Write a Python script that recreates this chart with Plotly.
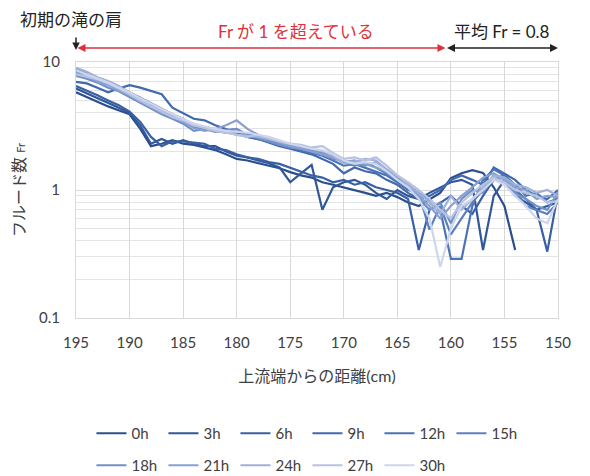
import plotly.graph_objects as go

# Distance from upstream end (cm), one reading per centimetre
distance = list(range(195, 149, -1))

hours = ["0h", "3h", "6h", "9h", "12h", "15h", "18h", "21h", "24h", "27h", "30h"]

fr_0h = [5.8, 5.3, 4.9, 4.5, 4.2, 3.9, 3.0, 2.2, 2.3, 2.45, 2.3, 2.25, 2.15, 2.05, 1.9, 1.75,
         1.7, 1.62, 1.55, 1.48, 1.38, 1.3, 1.25, 1.15, 1.1, 1.05, 1.0, 0.95, 0.9, 0.95, 0.88,
         0.8, 0.75, 0.85, 0.95, 1.24, 1.35, 1.43, 1.36, 1.05, 0.75, 0.34, None, None, None, None]
fr_3h = [6.2, 5.7, 5.2, 4.8, 4.4, 4.0, 3.2, 2.3, 2.5, 2.3, 2.45, 2.3, 2.2, 2.2, 2.0, 1.85,
         1.8, 1.7, 1.62, 1.5, 1.15, 1.35, 1.57, 0.7, 1.05, 1.15, 1.2, 1.1, 0.95, 0.85, 1.0,
         0.9, 0.85, 0.95, 1.05, 1.15, 1.2, 1.1, 0.34, 0.9, 1.2, 0.9, 0.8, 0.7, 0.75, 0.8]
fr_6h = [6.5, 6.0, 5.5, 5.0, 4.6, 4.1, 3.4, 2.6, 2.2, 2.4, 2.4, 2.35, 2.3, 2.1, 2.05, 1.9,
         1.8, 1.75, 1.65, 1.6, 1.5, 1.4, 1.3, 1.25, 1.15, 1.2, 1.1, 1.15, 1.05, 1.0, 0.95,
         0.85, 0.34, 0.7, 0.8, 0.9, 0.75, 0.65, 0.9, 1.2, 1.3, 1.0, 0.85, 0.7, 0.33, 0.95]
fr_9h = [7.0, 6.8, 6.3, 5.8, 6.2, 6.6, 6.3, 5.9, 5.6, 4.4, 4.0, 3.6, 3.5, 3.2, 3.0, 2.8,
         2.6, 2.5, 2.35, 2.2, 2.1, 2.0, 1.9, 1.75, 1.6, 1.35, 1.5, 1.4, 1.35, 1.2, 1.1,
         0.95, 0.85, 0.9, 1.0, 1.2, 1.3, 1.2, 1.1, 1.5, 1.35, 1.2, 1.0, 0.9, 0.85, 1.0]
fr_12h = [8.5, 8.0, 7.2, 6.8, 6.1, 5.6, 5.0, 4.6, 4.1, 3.8, 3.5, 3.1, 3.0, 2.9, 2.8, 2.75,
          2.6, 2.5, 2.4, 2.35, 2.2, 2.05, 1.95, 1.85, 1.7, 1.55, 1.6, 1.5, 1.4, 1.3, 1.15,
          1.0, 0.95, 0.85, 0.7, 0.29, 0.29, 0.75, 1.2, 1.45, 1.3, 1.1, 0.9, 0.95, 0.8, 0.85]
fr_15h = [8.8, 8.2, 7.5, 7.0, 6.4, 5.8, 5.3, 4.8, 4.3, 3.9, 3.6, 3.2, 3.1, 3.0, 2.9, 2.85,
          2.75, 2.65, 2.5, 2.3, 2.25, 2.15, 2.0, 1.95, 1.8, 1.65, 1.55, 1.65, 1.5, 1.35, 1.2,
          1.1, 0.95, 0.49, 0.75, 0.45, 0.6, 0.8, 1.0, 1.3, 1.25, 1.0, 0.75, 0.7, 0.65, 0.8]
fr_18h = [7.8, 7.4, 6.9, 6.3, 5.9, 5.3, 4.8, 4.3, 3.9, 3.6, 3.3, 2.9, 3.0, 2.85, 2.95, 3.0,
          2.7, 2.55, 2.4, 2.25, 2.15, 2.1, 2.05, 1.9, 1.75, 1.7, 1.6, 1.55, 1.65, 1.45, 1.25,
          1.05, 0.85, 0.7, 0.8, 0.55, 0.85, 1.0, 0.95, 1.25, 1.15, 0.95, 0.85, 0.75, 0.7, 0.95]
fr_21h = [8.2, 7.8, 7.0, 6.6, 6.0, 5.5, 4.9, 4.4, 4.0, 3.8, 3.4, 3.05, 2.9, 3.0, 3.2, 3.5,
          3.0, 2.7, 2.5, 2.35, 2.2, 2.1, 2.0, 1.9, 1.8, 1.65, 1.7, 1.6, 1.5, 1.4, 1.25,
          1.1, 0.9, 0.75, 0.6, 0.75, 0.9, 1.05, 1.25, 1.35, 1.2, 1.05, 1.0, 0.85, 0.9, 0.88]
fr_24h = [9.0, 8.4, 7.6, 7.1, 6.5, 5.7, 5.1, 4.5, 4.2, 3.9, 3.5, 3.2, 3.1, 2.95, 2.85, 2.7,
          2.65, 2.6, 2.5, 2.4, 2.3, 2.2, 2.1, 2.0, 1.85, 1.6, 1.65, 1.75, 1.7, 1.45, 1.3,
          1.1, 0.95, 0.8, 0.65, 0.9, 0.7, 0.85, 1.05, 1.3, 1.25, 1.1, 1.05, 0.95, 1.0, 0.9]
fr_27h = [8.0, 7.7, 7.3, 6.8, 6.2, 5.6, 5.0, 4.5, 4.1, 3.7, 3.5, 3.2, 3.05, 2.9, 2.8, 2.7,
          2.6, 2.7, 2.55, 2.4, 2.3, 2.25, 2.15, 2.2, 1.95, 1.75, 1.8, 1.7, 1.8, 1.55, 1.3,
          1.15, 1.0, 0.85, 0.7, 0.6, 0.8, 0.95, 1.1, 1.25, 1.15, 1.0, 0.95, 0.9, 0.8, 0.82]
fr_30h = [8.6, 8.0, 7.4, 6.9, 6.3, 5.8, 5.2, 4.7, 4.3, 3.9, 3.6, 3.3, 3.15, 3.0, 2.9, 2.85,
          2.8, 2.7, 2.6, 2.45, 2.3, 2.2, 2.1, 2.05, 1.9, 1.7, 1.6, 1.65, 1.6, 1.4, 1.2,
          1.05, 0.85, 0.6, 0.25, 0.5, 0.75, 0.85, 1.0, 1.2, 1.1, 0.9, 0.75, 0.6, 0.55, 0.85]

series = [fr_0h, fr_3h, fr_6h, fr_9h, fr_12h, fr_15h, fr_18h, fr_21h, fr_24h, fr_27h, fr_30h]

colors = ["#2B4F8E", "#30579A", "#3960A5", "#4169AE", "#4B74B7", "#5A80BF",
          "#7090C8", "#88A0D0", "#A0B1D9", "#B8C3E2", "#CED5EC"]

FONT = "Lato, 'Noto Sans CJK JP', sans-serif"
GRID = "#D9D9D9"

fig = go.Figure()
for i, (name, vals, col) in enumerate(zip(hours, series, colors)):
    fig.add_trace(go.Scatter(
        x=distance, y=vals, name=name, mode="lines",
        line=dict(color=col, width=2.2),
        connectgaps=False,
        legend="legend" if i < 6 else "legend2",
    ))

legend_common = dict(
    orientation="h", xref="container", yref="container",
    xanchor="left", yanchor="top",
    entrywidth=27, entrywidthmode="pixels", tracegroupgap=0,
    font=dict(size=15, color="#404040"), itemwidth=30,
    bgcolor="rgba(0,0,0,0)",
)

fig.update_layout(
    width=590, height=476,
    margin=dict(l=76, r=32, t=62, b=158),
    paper_bgcolor="white", plot_bgcolor="white",
    font=dict(family=FONT, size=14, color="#404040"),
    showlegend=True,
    legend=dict(legend_common, x=0.155, y=1 - 417 / 476),
    legend2=dict(legend_common, x=0.155, y=1 - 449 / 476),
)

fig.update_xaxes(
    range=[195, 150], dtick=5, tick0=150,
    showgrid=True, gridcolor=GRID, gridwidth=1,
    showline=True, linecolor=GRID, mirror=True,
    zeroline=False, ticks="", ticklabelstandoff=11,
    tickfont=dict(size=15, color="#404040"),
    title=dict(text="上流端からの距離(cm)", font=dict(size=16, color="#404040"), standoff=20),
)
fig.update_yaxes(
    type="log", range=[-1, 1],
    tickvals=[0.1, 1, 10], ticktext=["0.1", "1", "10"],
    showgrid=True, gridcolor=GRID, gridwidth=1,
    minor=dict(showgrid=True, gridcolor="#E4E4E4", gridwidth=1, dtick="D1", ticks=""),
    showline=True, linecolor=GRID, mirror=True,
    zeroline=False, ticks="", ticklabelstandoff=12,
    tickfont=dict(size=15, color="#404040"),
    title=dict(text="フルード数 <span style='font-size:11px'>Fr</span>",
               font=dict(size=16, color="#404040"), standoff=9),
)

def py(p):
    # paper y from a pixel row of the page
    return (318 - p) / 256

def px(p):
    # paper x from a pixel column of the page
    return (p - 76) / 482

annotations = [
    dict(text="初期の滝の肩", x=px(71), y=py(19), xref="paper", yref="paper",
         xanchor="center", yanchor="middle",
         showarrow=False, font=dict(size=17, color="#222222")),
    dict(text="Fr が 1 を超えている", x=px(296), y=py(31), xref="paper", yref="paper",
         xanchor="center", yanchor="middle",
         showarrow=False, font=dict(size=17, color="#E0313B")),
    dict(text="平均 Fr = 0.8", x=px(502), y=py(31), xref="paper", yref="paper",
         xanchor="center", yanchor="middle",
         showarrow=False, font=dict(size=17, color="#222222")),
    # shoulder marker
    dict(text="", x=195, y=py(50), xref="x", yref="paper", showarrow=True,
         ax=0, ay=-14, arrowhead=2, arrowsize=1, arrowwidth=1.5, arrowcolor="#222222"),
    # supercritical stretch
    dict(text="", x=160.5, y=py(48), xref="x", yref="paper", axref="x", ax=195,
         ayref="pixel", ay=0, showarrow=True, arrowside="end+start",
         arrowhead=2, arrowsize=1, arrowwidth=1.6, arrowcolor="#E0313B"),
    # mean Fr stretch
    dict(text="", x=150, y=py(48), xref="x", yref="paper", axref="x", ax=160.5,
         ayref="pixel", ay=0, showarrow=True, arrowside="end+start",
         arrowhead=2, arrowsize=1, arrowwidth=1.6, arrowcolor="#222222"),
]
fig.update_layout(annotations=annotations)

fig.write_html("out.html")
